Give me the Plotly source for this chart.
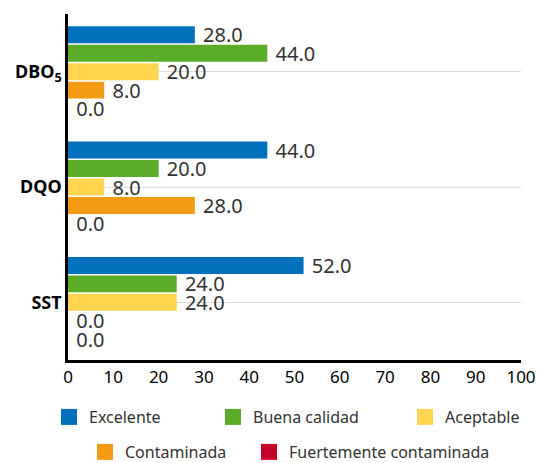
import plotly.graph_objects as go

categories = ["DBO<sub>5</sub>", "DQO", "SST"]
series_names = ["Excelente", "Buena calidad", "Aceptable", "Contaminada", "Fuertemente contaminada"]
excelente = [28.0, 44.0, 52.0]
buena_calidad = [44.0, 20.0, 24.0]
aceptable = [20.0, 8.0, 24.0]
contaminada = [8.0, 28.0, 0.0]
fuertemente_contaminada = [0.0, 0.0, 0.0]
x_ticks = [0, 10, 20, 30, 40, 50, 60, 70, 80, 90, 100]

colors = ["#0070BA", "#5BAD29", "#FFD54F", "#F39B13", "#C4002B"]
values = [excelente, buena_calidad, aceptable, contaminada, fuertemente_contaminada]

FONT = "Noto Sans"
fig = go.Figure()

for name, vals, col in zip(series_names, values, colors):
    fig.add_trace(go.Bar(
        y=categories, x=vals, orientation="h", name=name,
        marker=dict(color=col, line=dict(width=0)),
        texttemplate="\u00a0%{x:.1f}", textposition="outside",
        textfont=dict(family=FONT, size=20, color="#333333"),
        constraintext="none", cliponaxis=False, showlegend=False,
    ))

# legend entries (one legend per entry for exact placement)
legend_ids = ["legend", "legend2", "legend3", "legend4", "legend5"]
legend_pos = [(49, 417), (213, 417), (405, 417), (85, 452), (249, 452)]
for name, col, lid in zip(series_names, colors, legend_ids):
    fig.add_trace(go.Scatter(
        x=[None], y=[None], mode="markers", name=name, legend=lid,
        marker=dict(symbol="square", size=16, color=col),
        hoverinfo="skip", showlegend=True,
    ))

W, H = 539, 463
legend_layout = {}
for lid, (px, py) in zip(legend_ids, legend_pos):
    legend_layout[lid] = dict(
        orientation="h", xref="container", yref="container",
        x=px / W, y=1 - py / H, xanchor="left", yanchor="middle",
        font=dict(family=FONT, size=16, color="#333333"),
        bgcolor="rgba(0,0,0,0)", borderwidth=0,
    )

fig.update_layout(
    width=W, height=H,
    margin=dict(l=68, r=18, t=14, b=103, autoexpand=False),
    paper_bgcolor="white", plot_bgcolor="white",
    font=dict(family=FONT, color="#000000"),
    barmode="group", bargap=0.2, bargroupgap=0.08,
    xaxis=dict(
        range=[0, 100], tickvals=x_ticks, showgrid=False, zeroline=False,
        showline=True, linecolor="#000000", linewidth=2.5, automargin=False,
        ticks="", tickfont=dict(family=FONT, size=17, color="#000000"),
        fixedrange=True,
    ),
    yaxis=dict(
        autorange="reversed", showgrid=True, gridcolor="#dcdcdc", gridwidth=1,
        zeroline=False, showline=True, linecolor="#000000", linewidth=2.5,
        automargin=False,
        ticks="", tickfont=dict(family=FONT, size=18, color="#000000", weight="bold"),
        fixedrange=True,
    ),
    **legend_layout,
)

fig.write_html(
    "out.html",
    config={"displayModeBar": False},
    post_script="document.body.style.margin='0';document.body.style.overflow='hidden';",
)
